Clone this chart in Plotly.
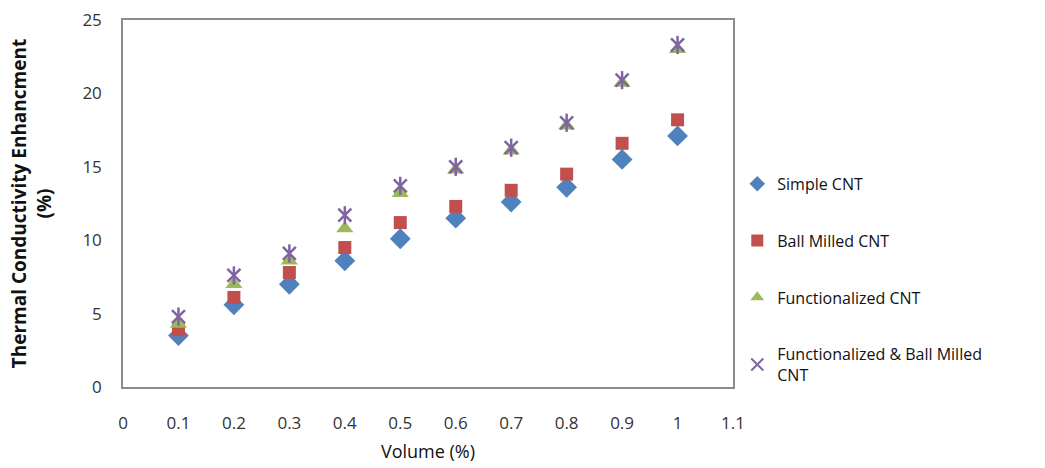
import plotly.graph_objects as go

volume = [0.1, 0.2, 0.3, 0.4, 0.5, 0.6, 0.7, 0.8, 0.9, 1.0]
simple_cnt = [3.5, 5.6, 7.0, 8.6, 10.1, 11.5, 12.6, 13.6, 15.5, 17.1]
ball_milled_cnt = [3.9, 6.1, 7.8, 9.5, 11.2, 12.3, 13.4, 14.5, 16.6, 18.2]
functionalized_cnt = [4.3, 7.0, 8.6, 10.8, 13.2, 14.8, 16.1, 17.8, 20.7, 23.0]
func_ball_milled_cnt = [4.8, 7.6, 9.1, 11.7, 13.7, 15.0, 16.3, 18.0, 20.9, 23.3]

names = ["Simple CNT", "Ball Milled CNT", "Functionalized CNT",
         "Functionalized & Ball Milled<br>CNT"]
colors = ["#4F81BD", "#C0504D", "#9BBB59", "#8064A2"]

FONT = "Open Sans, Liberation Sans, sans-serif"

fig = go.Figure()
fig.add_trace(go.Scatter(x=volume, y=simple_cnt, mode="markers", name=names[0],
                         legendgroup="a",
                         marker=dict(symbol="diamond", size=16, color=colors[0])))
fig.add_trace(go.Scatter(x=volume, y=ball_milled_cnt, mode="markers", name=names[1],
                         legendgroup="b",
                         marker=dict(symbol="square", size=13, color=colors[1])))
fig.add_trace(go.Scatter(x=volume, y=functionalized_cnt, mode="markers", name=names[2],
                         legendgroup="c",
                         marker=dict(symbol="triangle-up", size=15, color=colors[2])))
fig.add_trace(go.Scatter(x=volume, y=func_ball_milled_cnt, mode="markers", name=names[3],
                         legendgroup="d",
                         marker=dict(symbol="x-thin-open", size=13, color=colors[3],
                                     line=dict(color=colors[3], width=2.5))))
fig.add_trace(go.Scatter(x=volume, y=func_ball_milled_cnt, mode="markers", name=names[3],
                         legendgroup="d", showlegend=False,
                         marker=dict(symbol="line-ns-open", size=13, color=colors[3],
                                     line=dict(color=colors[3], width=2.5))))

fig.update_layout(
    width=1045, height=468,
    margin=dict(l=123, r=312, t=20, b=81),
    paper_bgcolor="white", plot_bgcolor="white",
    font=dict(family=FONT, color="#222222"),
    showlegend=True,
    legend=dict(x=1.007, y=0.60, xanchor="left", yanchor="top",
                font=dict(size=16, color="#111111", family=FONT),
                tracegroupgap=33, itemsizing="constant",
                bgcolor="rgba(0,0,0,0)"),
    xaxis=dict(range=[0, 1.1], tickmode="array", automargin=False,
               tickvals=[0, 0.1, 0.2, 0.3, 0.4, 0.5, 0.6, 0.7, 0.8, 0.9, 1.0, 1.1],
               ticktext=["0", "0.1", "0.2", "0.3", "0.4", "0.5", "0.6", "0.7",
                         "0.8", "0.9", "1", "1.1"],
               showgrid=False, zeroline=False, ticks="",
               ticklabelstandoff=20,
               tickfont=dict(size=17, color="#333333"),
               showline=True, linecolor="#8c8c8c", linewidth=1.5, mirror=True,
               title=dict(text="Volume (%)", font=dict(size=18, color="#111111"),
                          standoff=12)),
    yaxis=dict(range=[0, 25], tickmode="array", tickvals=[0, 5, 10, 15, 20, 25],
               automargin=False,
               showgrid=False, zeroline=False, ticks="",
               ticklabelstandoff=16,
               tickfont=dict(size=17, color="#333333"),
               showline=True, linecolor="#8c8c8c", linewidth=1.5, mirror=True,
               title=dict(text="<b>Thermal Conductivity Enhancment<br>(%)</b>",
                          font=dict(size=19, color="#111111"), standoff=26)),
)

fig.write_html("out.html")
